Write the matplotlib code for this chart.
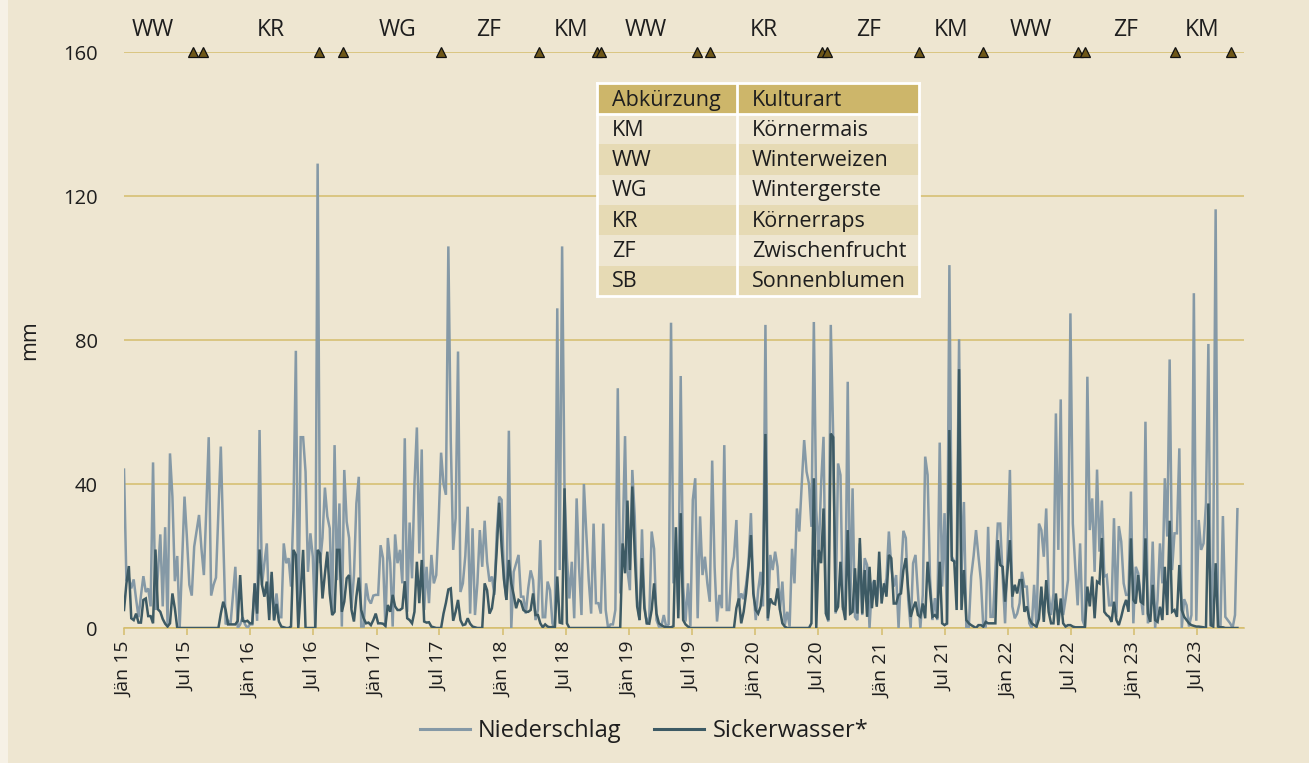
import matplotlib
matplotlib.use("Agg")
import matplotlib.pyplot as plt
import pandas as pd
from matplotlib.patches import Rectangle
from matplotlib.lines import Line2D

plt.rcParams['font.family'] = ['Open Sans', 'DejaVu Sans']

# ---------------- data ----------------
start_date = "2015-01-01"

niederschlag = [
    44, 13, 14, 11, 13.5, 8, 3, 9, 14.4, 10,
    11, 6, 46, 5, 15, 26, 6, 28, 1, 48.5,
    36.5, 13, 20, 0, 18, 36.5, 25, 12, 9, 22.6,
    27, 31.4, 22, 14.7, 33, 53, 9, 12, 14, 32,
    50.4, 25, 1, 2, 1, 9, 17, 0, 1, 3,
    1, 0, 1, 1, 12.4, 2, 55, 12,
    18, 23.5, 4, 14.7, 2, 9.6, 3, 3, 23.5, 18, 19.4, 11.5, 32.8, 77, 1, 53, 53, 43.4,
    15.6, 26.3, 19.8, 0, 129,
    18, 25, 39, 31, 27.7, 4.5, 50.8, 13.3, 34.6, 0.4, 43.9, 29.5, 25, 5.5, 14.7, 34.6,
    42, 0.4, 0.4, 12.4, 8, 6.8, 9, 9.2, 9.2, 23, 19.4, 0.4, 25, 18, 0.4, 26, 18, 21.7,
    12.4, 52.7,
    4.5, 29.3, 13.8, 40, 55.7, 20.7, 49.6, 5, 17, 6.9, 20.3, 12.4, 14.7, 30, 48.7, 40,
    37, 106, 52, 21.7, 30.5, 76.8, 10, 12.4, 20, 33.7, 4, 27.7, 3.6, 12.4, 27.2, 17,
    29.8, 18.4, 12.9, 14.3, 9.2, 26.3, 36.5, 35.6, 13.8, 7.8, 54.8, 0, 15.6, 18, 20.3,
    8.7, 8.7, 4, 11, 16, 13.3, 2.2, 5, 24.4, 3,
    3, 12.9, 10.5, 1.3, 0, 88.8, 16.1, 106, 38.3, 19.4, 8.2, 18.4, 2.7, 36, 17, 3.6,
    40, 26.3, 13.3, 4, 29, 6.9, 6.9, 4, 29, 5, 0, 1, 1, 5, 66.6, 9.6, 23.5, 53.3, 16.1,
    10.5, 43.9, 31, 7.8, 2.2, 27.4, 6.4, 1, 3, 26.8, 22, 2.2, 0.4, 0.4, 3.6, 0.4, 1,
    84.8, 12.4, 21.7, 5, 70, 11.5,
    1.8, 12.4, 0.4, 35.6, 41.6, 2.7, 31, 14.7, 19.8, 12.4, 7.3, 46.5, 17, 1.8, 9.2, 5.5,
    50.8, 5, 5, 16.1, 19.8, 30, 6.9, 9.6, 8, 12, 18, 31.9, 10.5, 2.2, 10.5, 15.6, 6,
    84.2, 2, 20.3, 16.1, 21.2, 17, 5, 12.9, 0.8, 4.5, 0.4, 22, 12.4, 33.2, 26.8, 40,
    52.2, 43.4, 40, 28.1, 85, 32.8, 20, 40, 53.1,
    4, 1.8, 84.2, 53.1, 4, 45.7, 42.5, 5, 6.4, 68.4, 3.6, 38.8, 3.1, 2.2, 23.5, 3.6,
    19.4, 17.5, 0, 12, 13.3, 6.4, 13.8, 10.5, 10.5, 13.8, 26.8, 17, 11.5, 14.7, 0, 15,
    27, 25, 7.8, 0, 18, 20.3, 9.6, 0, 9.2, 47.6, 42.5, 13.8, 2.2, 8.3, 2.2, 51.5, 11.5,
    31.9, 0.8, 100.8, 19.8, 18.5, 18, 80.2, 15, 35,
    0, 0, 14.3, 20, 27.2, 20, 13.3, 0.4, 0.4, 28.1, 3.1, 3.1, 16.1, 29, 29, 14.3, 1.3,
    20.3, 43.9, 6, 2.7, 4, 6.9, 15.6, 11.5, 11.5, 1.3, 0, 12, 0, 29, 27.2, 19.8, 33.2,
    9.6, 3.6, 9.6, 59.6, 21.7, 63.5, 3.6, 8, 13.3, 87.4, 29, 17, 6.3, 23.5, 2.2, 0.4,
    69.8, 27.2, 36, 15.6, 44, 21.2, 35.4, 14.3,
    14.7, 6.3, 6.3, 30.5, 3.1, 28.3, 24, 12.4, 9.2, 9.2, 37.9, 1.3, 17, 15.2, 9.2, 3.6,
    57.3, 1.3, 4, 24, 0, 7.8, 23.5, 12.4, 41.6, 25.4, 74.6, 16.1, 26.3, 26.3, 49.9, 0,
    8, 6.3, 0.4, 3.6, 93, 2, 30, 21.7, 23.5, 34.6, 78.9, 0.4, 18.5, 116.3, 0.4, 0.4,
    31.1, 3.1, 2.2, 1.3, 0, 3.6, 33,
]

sickerwasser = [
    5, 12.4, 17.2, 2.7, 2.2, 4, 1.5, 1.5, 7.8, 8.2,
    3.3, 3.3, 1.3, 21.8, 5.2, 4.5, 2.5, 1.2, 0.4, 1.3,
    9.6, 5.5, 0, 0, 0, 0, 0, 0, 0, 0,
    0, 0, 0, 0, 0, 0, 0, 0, 0, 0,
    4, 7.3, 5, 1, 1, 1, 1, 2, 14.7, 2,
    1.8, 2, 1.3, 1.3, 12.4, 4, 21.8, 12,
    8.7, 12.9, 2.2, 15.6, 2.2, 6.7, 1.8, 0.4, 0.2, 0, 0, 0.4, 21.7, 20.3, 0, 10, 21.7,
    0, 0, 0, 0, 0, 21.7,
    20.7, 8.2, 15, 21.2, 9.6, 3.6, 4.5, 21.7, 21.7, 4.5, 7.3, 13.8, 14.7, 5, 1.8, 8.7,
    14, 5, 2.7, 1.3, 1.5, 0.8, 2.2, 4, 1.3, 1.3, 1.2, 0.6, 6.4, 4.5, 9.2, 6, 5, 5, 5.5, 13,
    2.7, 2.2, 1.3, 4.5, 18.4, 6.9, 18.9, 1.8, 1.5, 1.6, 0.4, 0.2, 0, 0, 0, 4, 7, 10.7,
    11, 2, 4.5, 7.8, 2.2, 0.8, 1, 2.7, 1.2, 0.4, 0.2, 0, 0, 0, 12.4, 10.5, 4, 5.5, 10.5,
    21.7, 34.8, 22.6, 13.3, 7.8, 18.9, 12.4, 9.2, 5.5, 7.8, 7.3, 5, 4.5, 4.5, 5, 9.6,
    3.6, 3.6, 1.3, 0.2,
    1.0, 0.4, 0.2, 0.3, 0.2, 14.3, 1.5, 1.3, 38.8, 1.3,
    0, 0, 0, 0, 0, 0, 0, 0, 0, 0, 0, 0, 0, 0, 0, 0, 0, 0, 0, 0, 0, 0,
    23.5, 15.2, 35.4, 16.1, 39.3, 20.7, 6, 2.2, 19.4, 5.5, 1.3, 1.2, 5, 12.4, 4, 1.3,
    0.8, 0.4, 0.2, 0.2, 0.2, 0.5, 28, 2.7, 31.9, 2.2,
    1.0, 0.4,
    0, 0, 0, 0, 0, 0, 0, 0, 0, 0, 0, 0, 0, 0, 0, 0, 0, 0, 0,
    5.5, 8.2, 1.3, 4.5, 9.6, 17, 25.8, 9.6, 5, 4, 6, 12.4, 53.9, 2.7, 8.2, 6.9, 6.6,
    11, 5, 1.3, 0.4,
    0, 0, 0, 0, 0, 0, 0, 0, 0, 0,
    1.3, 41.6, 0, 21.7, 18, 33.2,
    4, 2.2, 54, 53, 4.5, 5.9, 18.4, 5.9, 2.2, 27.2, 4, 4.5, 16.6, 4, 25, 4, 16.1, 3.1,
    17, 5.5, 13.3, 5.9, 21.2, 6.8, 12.4, 8.7, 20.3, 19.4, 6.8, 6.8, 9.2, 9.6, 16.1,
    19.4, 10.5, 3.1, 5.5, 7.3, 3.6, 3.1, 6.8, 2.7, 18.4, 10.5, 3.1, 3.6, 2.7, 18.4, 1.3,
    0.8, 1.3, 55, 18.9, 18.5, 5, 71.9, 5, 16.1,
    2.2, 1.3, 0.8, 0.4, 0, 0.8, 0.8, 0.4, 1.7, 1.3, 1.3, 1.3, 1.3, 24.4, 17.5, 17, 7.3,
    16, 24.4, 8.7, 12, 9.6, 13.3, 13.3, 4.5, 6, 2.7, 1.3, 0.8, 0.4, 2.5, 11.5, 1.7,
    13.3, 4.5, 1.3, 1.3, 9.6, 0.8, 8.2, 1.3, 0.4, 0.8, 0.8, 0.4, 0.2, 0.2, 0.2, 0.2,
    0.2, 11.5, 6, 14.3, 2.7, 12.9, 12.4, 25, 4.5,
    3.6, 3.1, 1.7, 7.3, 2.2, 0.8, 3.1, 5.9, 7.8, 4.5, 24.9, 7.8, 6.8, 14.7, 7.3, 6.8,
    24.9, 4, 1.7, 12, 2.2, 1.7, 5.9, 2.2, 17, 3.6, 29.8, 4.5, 5, 3.1, 17.5, 5, 3.1, 2.2,
    1.3, 0.8, 0.6, 0.4, 0.4, 0.3, 0.2, 0, 34.6, 0.8, 0.4, 18, 0.4, 0.2, 0.2, 0, 0, 0,
    0, 0, 0,
]

crop_change_dates = [
    "2015-07-19", "2015-08-18", "2016-07-18", "2016-09-25", "2017-07-06",
    "2018-04-16", "2018-10-01", "2018-10-12", "2019-07-17", "2019-08-22",
    "2020-07-11", "2020-07-25", "2021-04-18", "2021-10-19", "2022-07-23",
    "2022-08-11", "2023-04-28", "2023-10-07",
]
crop_labels = ["WW", "KR", "WG", "ZF", "KM", "WW", "KR", "ZF", "KM", "WW", "ZF", "KM"]
crop_label_dates = [
    "2015-03-26", "2016-03-01", "2017-03-03", "2017-11-20", "2018-07-18",
    "2019-02-18", "2020-01-25", "2020-11-22", "2021-07-19", "2022-03-07",
    "2022-12-07", "2023-07-17",
]

tick_dates = ["2015-01-01", "2015-07-01", "2016-01-01", "2016-07-01", "2017-01-01",
              "2017-07-01", "2018-01-01", "2018-07-01", "2019-01-01", "2019-07-01",
              "2020-01-01", "2020-07-01", "2021-01-01", "2021-07-01", "2022-01-01",
              "2022-07-01", "2023-01-01", "2023-07-01"]
tick_labels = ["Jän 15", "Jul 15", "Jän 16", "Jul 16", "Jän 17", "Jul 17", "Jän 18",
               "Jul 18", "Jän 19", "Jul 19", "Jän 20", "Jul 20", "Jän 21", "Jul 21",
               "Jän 22", "Jul 22", "Jän 23", "Jul 23"]
y_ticks = [0, 40, 80, 120, 160]

table_header = ["Abkürzung", "Kulturart"]
table_abbr = ["KM", "WW", "WG", "KR", "ZF", "SB"]
table_names = ["Körnermais", "Winterweizen", "Wintergerste", "Körnerraps",
               "Zwischenfrucht", "Sonnenblumen"]

# ---------------- style ----------------
W, H = 1309, 763
BG = "#EEE6D1"
GOLD = "#D5BD6C"
LIGHT = "#8599A6"
DARK = "#3D5A64"
HEAD = "#CDB66A"
ROW_DARK = "#E6DAB4"
TXT = "#1E1E1E"


def fx(px):
    return px / W


def fy(py):
    return 1 - py / H


fig = plt.figure(figsize=(W / 100, H / 100), dpi=100)
fig.patch.set_facecolor(BG)
fig.add_artist(Rectangle((0, 0), fx(8), 1, transform=fig.transFigure,
                         facecolor="#F6F1E6", edgecolor="none", zorder=0))

ax = fig.add_axes([fx(124), fy(628), fx(1244) - fx(124), fy(52) - fy(628)])
ax.set_facecolor("none")

dates = pd.date_range(start_date, periods=len(niederschlag), freq="7D")
dates_s = pd.date_range(start_date, periods=len(sickerwasser), freq="7D")

ax.plot(dates, niederschlag, color=LIGHT, lw=1.8, zorder=3, solid_joinstyle="miter")
ax.plot(dates_s, sickerwasser, color=DARK, lw=1.8, zorder=4, solid_joinstyle="miter")

ax.set_xlim(pd.Timestamp("2015-01-01"), pd.Timestamp("2023-11-14"))
ax.set_ylim(0, 160)

ax.set_yticks(y_ticks)
ax.yaxis.grid(True, color=GOLD, lw=1.1)
ax.set_axisbelow(True)
ax.tick_params(axis="y", length=0, pad=19, labelsize=14.5, labelcolor=TXT)

ax.set_xticks(pd.to_datetime(tick_dates))
ax.set_xticklabels(tick_labels, rotation=90)
ax.tick_params(axis="x", length=5, width=1.1, color=GOLD, pad=5, labelsize=14,
               labelcolor=TXT)

for s in ["top", "right", "left"]:
    ax.spines[s].set_visible(False)
ax.spines["bottom"].set_color(GOLD)
ax.spines["bottom"].set_linewidth(1.1)

# crop rotation markers
cd = pd.to_datetime(crop_change_dates)
ax.plot(cd, [160] * len(cd), linestyle="none", marker="^", ms=7.5,
        mfc="#6E5718", mec="#111111", mew=0.9, clip_on=False, zorder=6)
for d, lab in zip(pd.to_datetime(crop_label_dates), crop_labels):
    ax.text(d, 166, lab, ha="center", va="center", fontsize=16.5, color=TXT,
            clip_on=False)

fig.text(fx(30), fy(340), "mm", rotation=90, ha="center", va="center",
         fontsize=15.5, color=TXT)

# legend
handles = [Line2D([], [], color=LIGHT, lw=2.2), Line2D([], [], color=DARK, lw=2.2)]
fig.legend(handles, ["Niederschlag", "Sickerwasser*"], loc="center",
           bbox_to_anchor=(fx(644), fy(731)), ncol=2, frameon=False, fontsize=17,
           handlelength=2.1, handletextpad=0.35, columnspacing=1.4,
           labelcolor=TXT)

# table
tx0, tx1, tsep = 597, 919, 737
ty0, thead = 83, 114
row_h = (296 - 114) / len(table_abbr)


def rect(x0, y0, x1, y1, **kw):
    fig.add_artist(Rectangle((fx(x0), fy(y1)), fx(x1) - fx(x0), fy(y0) - fy(y1),
                             transform=fig.transFigure, **kw))


TFS = 15.5
rect(tx0, ty0, tx1, thead, facecolor=HEAD, edgecolor="none", zorder=10)
for i, (a, n) in enumerate(zip(table_abbr, table_names)):
    y0 = thead + i * row_h
    col = BG if i % 2 == 0 else ROW_DARK
    rect(tx0, y0, tx1, y0 + row_h, facecolor=col, edgecolor="none", zorder=10)
    fig.text(fx(612), fy(y0 + row_h / 2 + 1), a, ha="left", va="center",
             fontsize=TFS, color=TXT, zorder=12)
    fig.text(fx(752), fy(y0 + row_h / 2 + 1), n, ha="left", va="center",
             fontsize=TFS, color=TXT, zorder=12)
fig.text(fx(612), fy((ty0 + thead) / 2 + 2), table_header[0], ha="left", va="center",
         fontsize=TFS, color=TXT, zorder=12, weight="medium")
fig.text(fx(752), fy((ty0 + thead) / 2 + 2), table_header[1], ha="left", va="center",
         fontsize=TFS, color=TXT, zorder=12, weight="medium")
# white borders
for (xa, ya, xb, yb) in [(tx0, ty0, tx1, ty0), (tx0, 296, tx1, 296),
                         (tx0, ty0, tx0, 296), (tx1, ty0, tx1, 296),
                         (tx0, thead, tx1, thead), (tsep, ty0, tsep, 296)]:
    fig.add_artist(Line2D([fx(xa), fx(xb)], [fy(ya), fy(yb)], color="white",
                          lw=2, transform=fig.transFigure, zorder=11))

fig.savefig("out.png", dpi=100, facecolor=BG)
